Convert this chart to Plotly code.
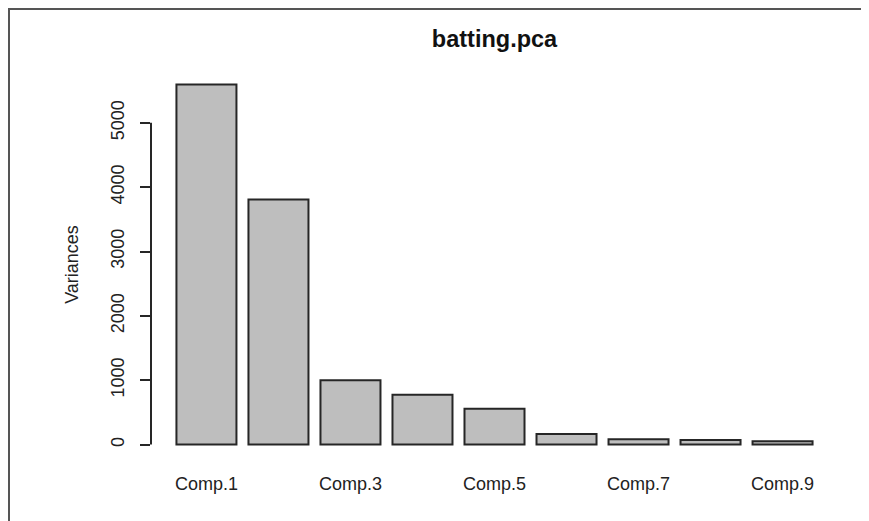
import plotly.graph_objects as go

# screeplot data
components = ['Comp.1', 'Comp.2', 'Comp.3', 'Comp.4', 'Comp.5',
              'Comp.6', 'Comp.7', 'Comp.8', 'Comp.9']
variances = [5597, 3809, 1000, 775, 558, 166, 82, 73, 51]
x_ticks = ['Comp.1', 'Comp.3', 'Comp.5', 'Comp.7', 'Comp.9']
y_ticks = [0, 1000, 2000, 3000, 4000, 5000]

font = 'Liberation Sans, Arial, Helvetica, sans-serif'
vmax = max(variances)

fig = go.Figure()
fig.add_trace(go.Bar(
    x=components, y=variances,
    marker=dict(color='#bebebe', line=dict(color='#262626', width=2)),
    showlegend=False
))

# page body has an 8px margin, so the figure is a bit smaller and shifted
fig.update_layout(
    width=861, height=513,
    margin=dict(l=143, r=31, t=62, b=62),
    paper_bgcolor='white', plot_bgcolor='white',
    bargap=12 / 72,
    font=dict(family=font, size=18, color='#222222'),
    title=dict(text='<b>batting.pca</b>', x=0.5, xref='paper', y=0.94, yanchor='middle',
               font=dict(family=font, size=23.5, color='#111111')),
    xaxis=dict(range=[-0.77, 8.77], tickmode='array', tickvals=x_ticks,
               showline=False, showgrid=False, zeroline=False, ticks='',
               ticklabelstandoff=12),
    yaxis=dict(range=[-0.04 * vmax, 1.04 * vmax], tickmode='array', tickvals=y_ticks,
               showline=False, showgrid=False, zeroline=False,
               ticks='outside', ticklen=10, tickwidth=2, tickcolor='#262626',
               tickangle=-90, ticklabelstandoff=9,
               title=dict(text='Variances', standoff=24, font=dict(size=18))),
)

# R-style y axis line running from first to last tick only
fig.add_shape(type='line', xref='paper', yref='y', x0=0, x1=0,
              y0=y_ticks[0], y1=y_ticks[-1], line=dict(color='#262626', width=2))

# frame of the cropped device border (top and left edges)
fig.add_shape(type='line', xref='paper', yref='paper', x0=-143 / 687, x1=1.1,
              y0=1 + 61 / 389.4, y1=1 + 61 / 389.4, line=dict(color='#555555', width=2))
fig.add_shape(type='line', xref='paper', yref='paper', x0=-142 / 687, x1=-142 / 687,
              y0=-0.2, y1=1 + 61 / 389.4, line=dict(color='#555555', width=2))

fig.write_html("out.html")
